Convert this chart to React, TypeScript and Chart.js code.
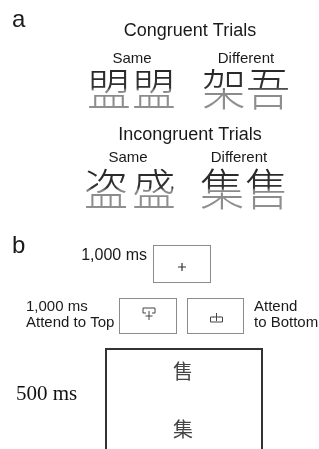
import React, { useEffect, useRef } from "react";
import { Chart, registerables } from "chart.js";

Chart.register(...registerables);

// ---- content ----
const panelLabels = ["a", "b"];
const trialTitles = ["Congruent Trials", "Incongruent Trials"];
const conditionLabels = ["Same", "Different"];
const congruentChars = ["盟", "盟", "架", "吾"];
const incongruentChars = ["盗", "盛", "集", "售"];
const fixationDuration = "1,000 ms";
const cueDuration = "1,000 ms";
const cueLabels = ["Attend to Top", "Attend to Bottom"];
const targetDuration = "500 ms";
const targetChars = ["售", "集"];

// ---- layout (diagram coordinates, in scale units) ----
const panelLabelPos = [[12, 27], [12, 253]];
const titleCenterX = 190;
const titleBaseY = [36, 140];
const condCenterX = [[132, 246], [128, 239]];
const condBaseY = [63, 162];
const charX = [[109, 154, 224, 268], [106, 154, 222, 267]];
const charCenterY = [89, 189];
const boxes = [
  [153, 245, 210, 282],
  [119, 298, 176, 333],
  [187, 298, 243, 333],
];
const bigBox = [106, 349, 262, 460];

const FONT = '"Liberation Sans", Arial, Helvetica, sans-serif';
const CJK = '"Noto Sans CJK SC", "Noto Sans CJK TC", sans-serif';

const diagramPlugin = {
  id: "diagram",
  afterDraw(chart: any) {
    const ctx: CanvasRenderingContext2D = chart.ctx;
    const sx = chart.scales.x;
    const sy = chart.scales.y;
    const X = (v: number) => sx.getPixelForValue(v);
    const Y = (v: number) => sy.getPixelForValue(v);
    ctx.save();

    // panel letters
    ctx.fillStyle = "#1a1a1a";
    ctx.font = `24px ${FONT}`;
    ctx.textAlign = "left";
    ctx.textBaseline = "alphabetic";
    panelLabels.forEach((l, i) => ctx.fillText(l, X(panelLabelPos[i][0]), Y(panelLabelPos[i][1])));

    // titles + condition labels + characters
    const rows = [congruentChars, incongruentChars];
    rows.forEach((chars, r) => {
      ctx.fillStyle = "#1a1a1a";
      ctx.textAlign = "center";
      ctx.textBaseline = "alphabetic";
      ctx.font = `18px ${FONT}`;
      ctx.fillText(trialTitles[r], X(titleCenterX), Y(titleBaseY[r]));
      ctx.font = `15px ${FONT}`;
      conditionLabels.forEach((c, k) => ctx.fillText(c, X(condCenterX[r][k]), Y(condBaseY[r])));

      ctx.font = `300 44px ${CJK}`;
      ctx.textBaseline = "middle";
      const cy = Y(charCenterY[r]);
      chars.forEach((ch, k) => {
        const g = ctx.createLinearGradient(0, cy - 21, 0, cy + 21);
        g.addColorStop(0, "#262626");
        g.addColorStop(0.47, "#333333");
        g.addColorStop(0.53, "#8a8a8a");
        g.addColorStop(1, "#909090");
        ctx.fillStyle = g;
        ctx.fillText(ch, X(charX[r][k]), cy);
      });
    });

    // small boxes
    ctx.strokeStyle = "#8c8c8c";
    ctx.lineWidth = 1;
    boxes.forEach(([x0, y0, x1, y1]) => {
      ctx.strokeRect(Math.round(X(x0)) + 0.5, Math.round(Y(y0)) + 0.5, X(x1) - X(x0), Y(y1) - Y(y0));
    });

    // fixation cross
    ctx.strokeStyle = "#333";
    ctx.lineWidth = 1.2;
    const fx = X(182), fy = Y(267);
    ctx.beginPath();
    ctx.moveTo(fx - 4, fy); ctx.lineTo(fx + 4, fy);
    ctx.moveTo(fx, fy - 4); ctx.lineTo(fx, fy + 4);
    ctx.stroke();

    // top cue icon
    ctx.lineWidth = 1;
    ctx.strokeStyle = "#444";
    let ix = X(149), iy = Y(308);
    ctx.beginPath();
    ctx.moveTo(ix - 6, iy + 5); ctx.lineTo(ix - 6, iy); ctx.lineTo(ix + 6, iy); ctx.lineTo(ix + 6, iy + 5);
    ctx.moveTo(ix - 6, iy + 5); ctx.lineTo(ix - 3, iy + 5);
    ctx.moveTo(ix + 3, iy + 5); ctx.lineTo(ix + 6, iy + 5);
    ctx.moveTo(ix - 3.5, iy + 8); ctx.lineTo(ix + 3.5, iy + 8);
    ctx.moveTo(ix, iy + 3); ctx.lineTo(ix, iy + 12);
    ctx.stroke();

    // bottom cue icon
    ix = X(216.5); iy = Y(322);
    ctx.beginPath();
    ctx.moveTo(ix - 6, iy - 5); ctx.lineTo(ix - 6, iy); ctx.lineTo(ix + 6, iy); ctx.lineTo(ix + 6, iy - 5);
    ctx.moveTo(ix - 6, iy - 5); ctx.lineTo(ix - 3, iy - 5);
    ctx.moveTo(ix + 3, iy - 5); ctx.lineTo(ix + 6, iy - 5);
    ctx.moveTo(ix - 3.5, iy - 5); ctx.lineTo(ix + 3.5, iy - 5);
    ctx.moveTo(ix, iy - 9); ctx.lineTo(ix, iy - 1);
    ctx.stroke();

    // durations / cue texts
    ctx.fillStyle = "#1a1a1a";
    ctx.textBaseline = "alphabetic";
    ctx.font = `16px ${FONT}`;
    ctx.textAlign = "right";
    ctx.fillText(fixationDuration, X(147), Y(260));
    ctx.font = `15px ${FONT}`;
    ctx.textAlign = "left";
    ctx.fillText(cueDuration, X(26), Y(311));
    ctx.fillText(cueLabels[0], X(26), Y(327));
    const bottomParts = cueLabels[1].split(" ");
    ctx.fillText(bottomParts[0], X(254), Y(311));
    ctx.fillText(bottomParts.slice(1).join(" "), X(254), Y(327));

    // target frame
    ctx.strokeStyle = "#333";
    ctx.lineWidth = 2;
    ctx.strokeRect(X(bigBox[0]), Y(bigBox[1]), X(bigBox[2]) - X(bigBox[0]), Y(bigBox[3]) - Y(bigBox[1]));

    ctx.fillStyle = "#444";
    ctx.font = `20px ${CJK}`;
    ctx.textAlign = "center";
    ctx.textBaseline = "middle";
    ctx.fillText(targetChars[0], X(183), Y(371));
    ctx.fillText(targetChars[1], X(183), Y(429));

    ctx.fillStyle = "#111";
    ctx.font = `21px "Liberation Serif", "Times New Roman", serif`;
    ctx.textAlign = "left";
    ctx.textBaseline = "alphabetic";
    ctx.fillText(targetDuration, X(16), Y(400));

    ctx.restore();
  },
};

export default function App() {
  const ref = useRef<HTMLCanvasElement | null>(null);
  useEffect(() => {
    document.body.style.margin = "0";
    document.body.style.background = "#fff";
    const chart = new Chart(ref.current as HTMLCanvasElement, {
      type: "scatter",
      data: { datasets: [{ data: [], pointRadius: 0 }] },
      options: {
        animation: false,
        responsive: false,
        maintainAspectRatio: false,
        layout: { padding: 0 },
        plugins: { legend: { display: false }, tooltip: { enabled: false } },
        scales: {
          x: { type: "linear", min: 0, max: 319, display: false },
          y: { type: "linear", min: 0, max: 449, reverse: true, display: false },
        },
      },
      plugins: [diagramPlugin],
    });
    return () => chart.destroy();
  }, []);
  return (
    <div style={{ position: "absolute", left: 0, top: 0, width: 319, height: 449, background: "#fff" }}>
      <canvas ref={ref} width={319} height={449} />
    </div>
  );
}
